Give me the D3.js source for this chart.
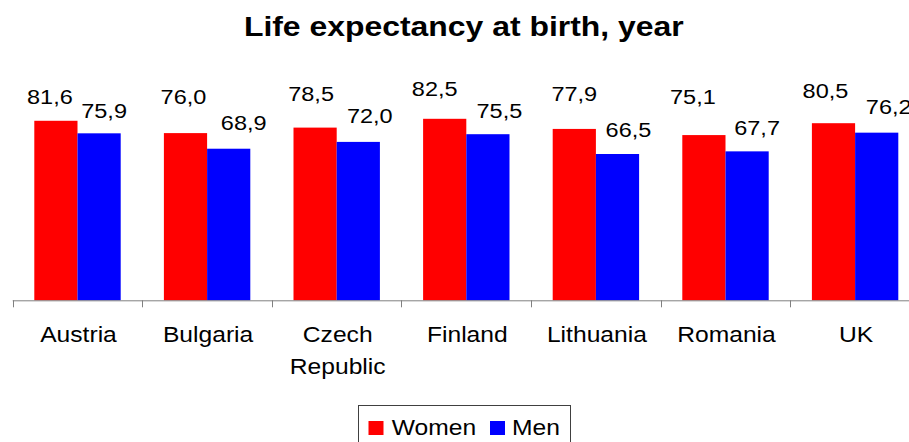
<!DOCTYPE html>
<html>
<head>
<meta charset="utf-8">
<script src="https://cdn.jsdelivr.net/npm/d3@7"></script>
<style>
  html, body { margin: 0; padding: 0; background: #fff; }
  svg { display: block; font-family: "Liberation Sans", Arial, sans-serif; }
</style>
</head>
<body>
<svg id="chart" width="909" height="442"></svg>
<script>
// ---- data ----
const title = "Life expectancy at birth, year";
const categories = ["Austria", "Bulgaria", "Czech Republic", "Finland", "Lithuania", "Romania", "UK"];
const seriesNames = ["Women", "Men"];
const women = [81.6, 76.0, 78.5, 82.5, 77.9, 75.1, 80.5];
const men = [75.9, 68.9, 72.0, 75.5, 66.5, 67.7, 76.2];
const seriesColors = ["#ff0000", "#0000ff"];

// manual label nudges (as placed in the original), relative to bar centre / bar top
const womenLabelDx = [-6, -2, -4, -10, 0, -11, -8];
const womenLabelDy = [-16.5, -29, -27, -23, -28, -31, -25];
const menLabelDx = [5, 15, 11.5, 11.5, 11, 10, 12];
const menLabelDy = [-15, -18.5, -18.5, -16, -17.5, -16.5, -18.5];

const values = [women, men];
const labelDx = [womenLabelDx, menLabelDx];
const labelDy = [womenLabelDy, menLabelDy];

// ---- layout ----
const svg = d3.select("#chart");
const SX = 1.12; // horizontal stretch of the original's text
const plotLeft = 12.7, plotRight = 919.9, baseY = 300.3, topY = 80.3;

const x0 = d3.scaleBand().domain(categories).range([plotLeft, plotRight]).paddingInner(0).paddingOuter(0);
const x1 = d3.scaleBand().domain(seriesNames).range([0, x0.bandwidth()]).paddingInner(0).paddingOuter(0.5);
const y = d3.scaleLinear().domain([0, 100]).range([baseY, topY]);

function stext(g, x, yy, txt, size, weight) {
  return g.append("text")
    .attr("transform", `translate(${x},${yy}) scale(${SX},1)`)
    .attr("text-anchor", "middle")
    .attr("font-size", size)
    .attr("font-weight", weight || "normal")
    .attr("fill", "#000")
    .text(txt);
}

// title
stext(svg, (plotLeft + plotRight) / 2 - 2.5, 36, title, 28.5, "bold");

// bars
const rows = categories.map((c, i) => ({ cat: c, i }));
seriesNames.forEach((s, si) => {
  svg.append("g").selectAll("rect")
    .data(rows)
    .join("rect")
    .attr("x", d => x0(d.cat) + x1(s))
    .attr("y", d => y(values[si][d.i]))
    .attr("width", x1.bandwidth())
    .attr("height", d => y(0) - y(values[si][d.i]))
    .attr("fill", seriesColors[si]);
});

// x axis
const xAxis = d3.axisBottom(x0).tickSize(0).tickFormat("");
const axG = svg.append("g").attr("transform", `translate(0,${baseY})`).call(xAxis);
axG.select(".domain").attr("stroke", "#808080").attr("d", `M${plotLeft},0.5H${plotRight}`);
// boundary ticks
const bounds = categories.map(c => x0(c));
axG.selectAll("line.bt")
  .data(bounds)
  .join("line")
  .attr("class", "bt")
  .attr("x1", d => Math.round(d) + 0.5).attr("x2", d => Math.round(d) + 0.5)
  .attr("y1", 0).attr("y2", 7)
  .attr("stroke", "#808080");

// category labels
const catG = svg.append("g");
categories.forEach(c => {
  const cx = x0(c) + x0.bandwidth() / 2 + 1;
  const words = c === "Czech Republic" ? ["Czech", "Republic"] : [c];
  words.forEach((w, k) => stext(catG, cx, 342 + k * 32, w, 22));
});

// value labels
const fmt = v => d3.format(".1f")(v).replace(".", ",");
const lblG = svg.append("g");
seriesNames.forEach((s, si) => {
  rows.forEach(d => {
    const v = values[si][d.i];
    const cx = x0(d.cat) + x1(s) + x1.bandwidth() / 2 + labelDx[si][d.i];
    stext(lblG, cx, y(v) + labelDy[si][d.i], fmt(v), 21);
  });
});

// legend
const lg = svg.append("g");
lg.append("rect")
  .attr("x", 358.5).attr("y", 405.5)
  .attr("width", 212).attr("height", 50)
  .attr("fill", "#fff").attr("stroke", "#404040").attr("stroke-width", 1);
const legendItems = [
  { name: seriesNames[0], color: seriesColors[0], sq: 368.5, tx: 434 },
  { name: seriesNames[1], color: seriesColors[1], sq: 490, tx: 536 }
];
legendItems.forEach(it => {
  lg.append("rect").attr("x", it.sq).attr("y", 421).attr("width", 15).attr("height", 14).attr("fill", it.color);
  stext(lg, it.tx, 434.5, it.name, 22);
});
</script>
</body>
</html>
